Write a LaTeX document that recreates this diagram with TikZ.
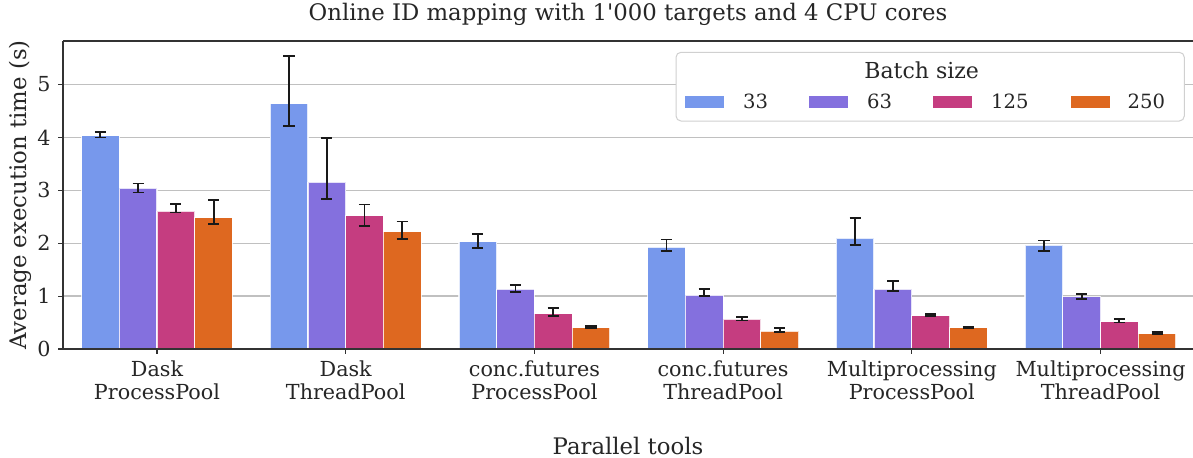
\documentclass[tikz,border=0pt]{standalone}
\usepackage{fontspec}
\setmainfont{DejaVu Serif}
\definecolor{b33}{HTML}{7798EC}
\definecolor{b63}{HTML}{8470DE}
\definecolor{b125}{HTML}{C53D80}
\definecolor{b250}{HTML}{DE6820}
\definecolor{spinec}{HTML}{333333}
\definecolor{gridc}{HTML}{C0C0C0}
\definecolor{framec}{HTML}{D0D0D0}
\definecolor{textc}{HTML}{262626}

% value -> vertical pixel position
\newcommand\yv[1]{349-52.9*(#1)}
% one bar with its error bar: group, hue index, value, low, high, colour
\newcommand\drawbar[6]{%
  \pgfmathsetmacro\xc{157+188.7*#1+(#2-1.5)*37.74}%
  \fill[#6] (\xc-18.87,349) rectangle (\xc+18.87,{\yv{#3}});
  \draw[baredge] (\xc-18.87,349) rectangle (\xc+18.87,{\yv{#3}});
  \draw[errbar] (\xc,{\yv{#4}}) -- (\xc,{\yv{#5}});
  \draw[errbar] (\xc-5.6,{\yv{#4}}) -- (\xc+5.6,{\yv{#4}});
  \draw[errbar] (\xc-5.6,{\yv{#5}}) -- (\xc+5.6,{\yv{#5}});
}

\begin{document}
\begin{tikzpicture}[x=0.5pt,y=-0.5pt,
  gridline/.style={gridc,line width=0.7pt},
  spine/.style={spinec,line width=0.75pt},
  tickmark/.style={spinec,line width=0.6pt},
  baredge/.style={white,line width=0.6pt,draw opacity=0.8},
  errbar/.style={black!90,line width=0.9pt},
  lbl/.style={text=textc,font=\fontsize{10.35pt}{11.5pt}\selectfont,inner sep=0pt},
  leglbl/.style={text=textc,font=\fontsize{9.8pt}{11.5pt}\selectfont,inner sep=0pt},
  ttl/.style={text=textc,font=\fontsize{11.4pt}{13pt}\selectfont,inner sep=0pt},
  legttl/.style={text=textc,font=\fontsize{11pt}{13pt}\selectfont,inner sep=0pt},
  legpatch/.style={inner sep=0pt,minimum width=19.6pt,minimum height=6pt}]
\useasboundingbox (0,0) rectangle (1193,457);
\fill[white] (0,0) rectangle (1193,457);

% horizontal grid
\foreach \k in {1,...,5}
  \draw[gridline] (63,{\yv{\k}}) -- (1193,{\yv{\k}});

% bars with confidence intervals
\drawbar{0}{0}{4.03}{4.00}{4.10}{b33}
\drawbar{0}{1}{3.04}{2.96}{3.13}{b63}
\drawbar{0}{2}{2.60}{2.58}{2.74}{b125}
\drawbar{0}{3}{2.48}{2.36}{2.81}{b250}
\drawbar{1}{0}{4.64}{4.22}{5.54}{b33}
\drawbar{1}{1}{3.15}{2.84}{3.99}{b63}
\drawbar{1}{2}{2.52}{2.32}{2.73}{b125}
\drawbar{1}{3}{2.22}{2.08}{2.41}{b250}
\drawbar{2}{0}{2.03}{1.915}{2.18}{b33}
\drawbar{2}{1}{1.13}{1.08}{1.21}{b63}
\drawbar{2}{2}{0.67}{0.62}{0.775}{b125}
\drawbar{2}{3}{0.40}{0.395}{0.44}{b250}
\drawbar{3}{0}{1.93}{1.85}{2.07}{b33}
\drawbar{3}{1}{1.02}{1.00}{1.13}{b63}
\drawbar{3}{2}{0.56}{0.54}{0.61}{b125}
\drawbar{3}{3}{0.34}{0.32}{0.39}{b250}
\drawbar{4}{0}{2.09}{1.97}{2.48}{b33}
\drawbar{4}{1}{1.13}{1.09}{1.28}{b63}
\drawbar{4}{2}{0.63}{0.62}{0.655}{b125}
\drawbar{4}{3}{0.40}{0.395}{0.425}{b250}
\drawbar{5}{0}{1.96}{1.85}{2.05}{b33}
\drawbar{5}{1}{0.99}{0.95}{1.045}{b63}
\drawbar{5}{2}{0.52}{0.50}{0.56}{b125}
\drawbar{5}{3}{0.29}{0.28}{0.32}{b250}

% axes frame
\draw[spine] (63,41) -- (63,349) -- (1193,349);
\draw[spine] (63,41) -- (1193,41);

% y ticks and labels
\foreach \k in {0,...,5} {
  \draw[tickmark] (58,{\yv{\k}}) -- (63,{\yv{\k}});
  \node[lbl,anchor=east] (ytick\k) at (51,{\yv{\k}}) {\k};
}

% x ticks and category labels
\foreach \i/\a/\b in {0/Dask/ProcessPool,1/Dask/ThreadPool,
    2/conc.futures/ProcessPool,3/conc.futures/ThreadPool,
    4/Multiprocessing/ProcessPool,5/Multiprocessing/ThreadPool} {
  \pgfmathsetmacro\xc{157+188.7*\i}
  \draw[tickmark] (\xc,349) -- (\xc,354);
  \node[lbl,align=center,anchor=north] (xtick\i) at (\xc,360) {\a\\\b};
}

% axis labels and title
\node[ttl] (title) at (628,14) {Online ID mapping with 1\textquotesingle000 targets and 4 CPU cores};
\node[ttl,rotate=90] (ylabel) at (20,195) {Average execution time (s)};
\node[ttl] (xlabel) at (628,446) {Parallel tools};

% legend
\draw[framec,fill=white,line width=0.5pt,rounded corners=2.5pt] (676,52.3) rectangle (1184.3,121);
\node[legttl] (legtitle) at (921.7,70.7) {Batch size};
\foreach \c/\t/\px/\tx in {b33/33/704.6/742.7,b63/63/828.8/866.7,
    b125/125/952.8/990.7,b250/250/1090.3/1127.3} {
  \node[legpatch,fill=\c] (patch\t) at (\px,101.7) {};
  \node[leglbl,anchor=west] (leg\t) at (\tx,101.7) {\t};
}
\end{tikzpicture}
\end{document}
